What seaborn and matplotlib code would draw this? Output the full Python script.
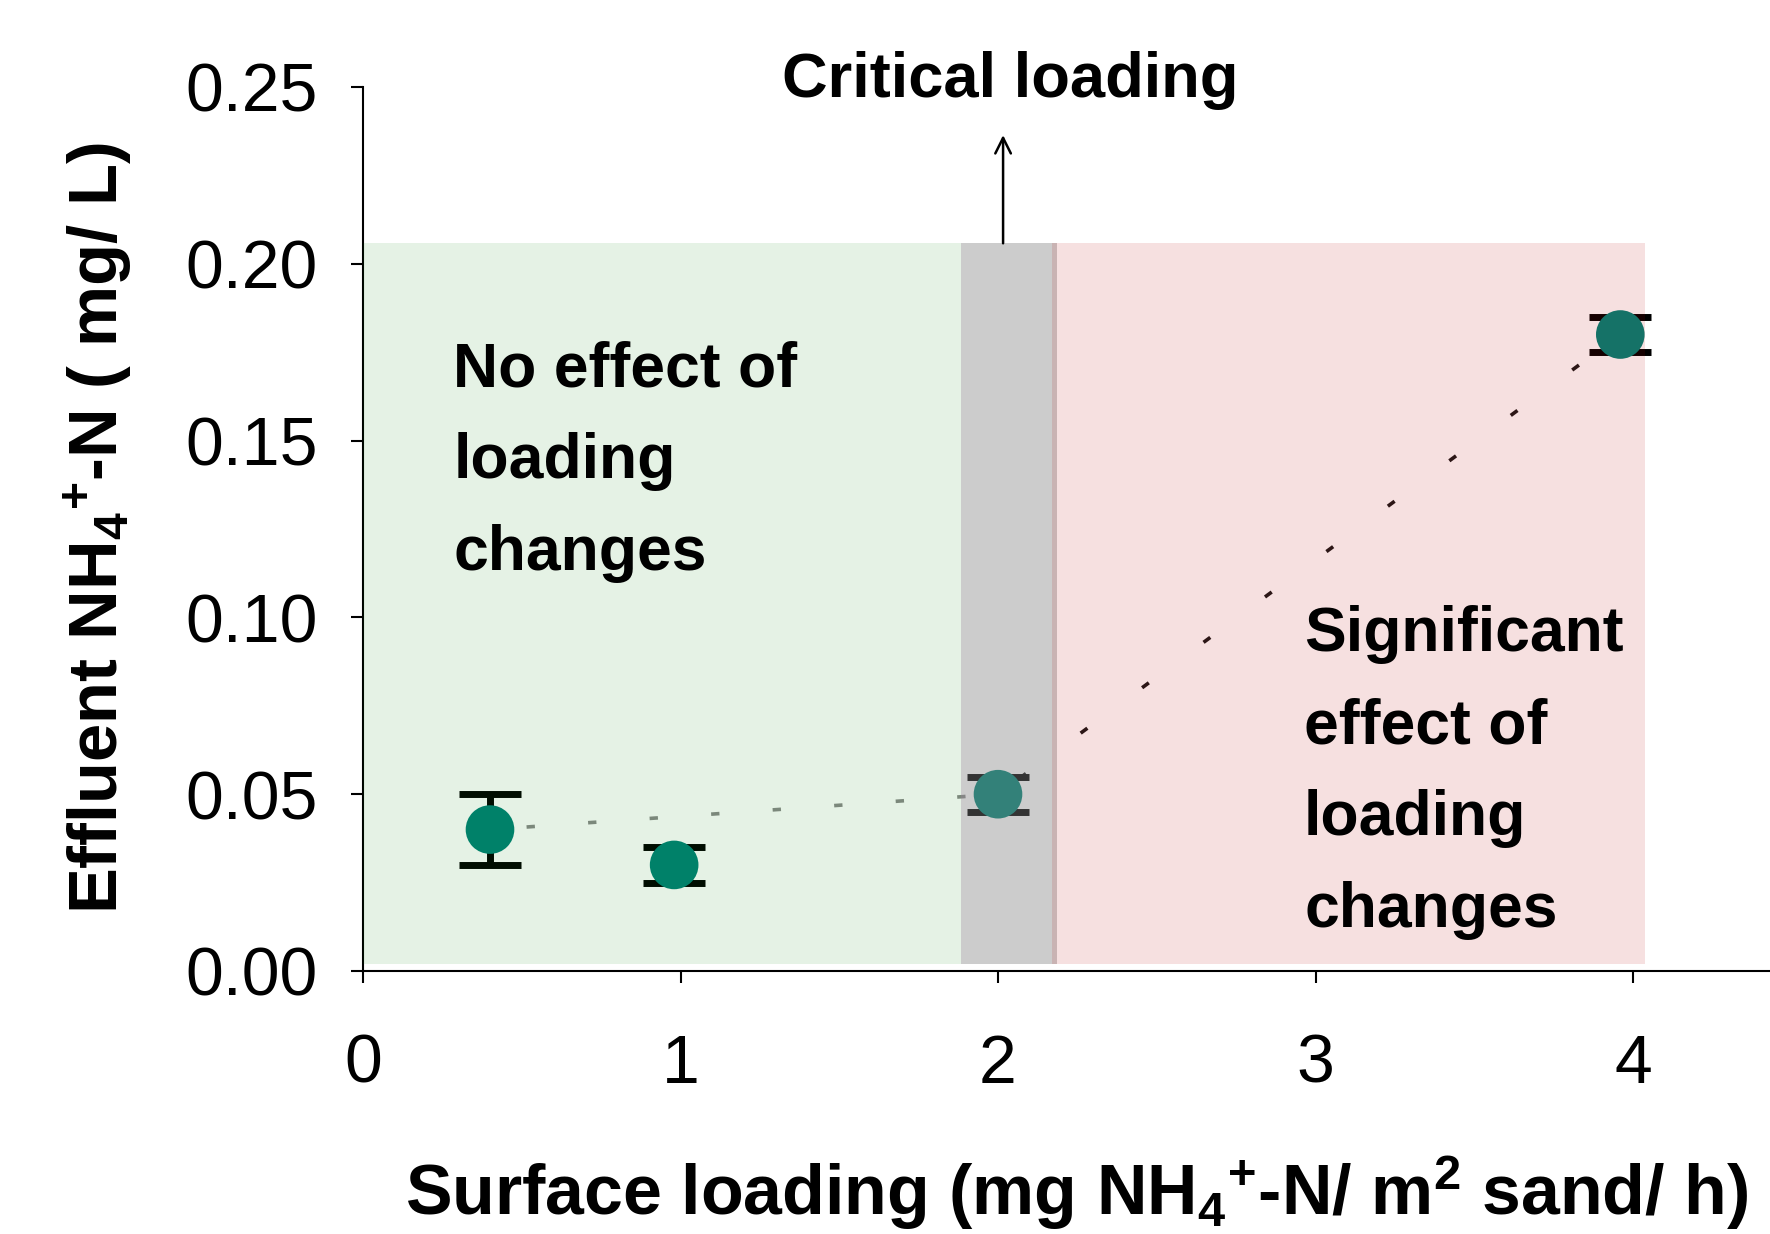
import matplotlib
matplotlib.use("Agg")
import matplotlib.pyplot as plt
import seaborn as sns
import numpy as np
import pandas as pd

# ---- data ----
loading = [0.40, 0.98, 2.00, 3.96]
effluent = [0.040, 0.030, 0.050, 0.180]
err = [0.010, 0.005, 0.005, 0.005]

trend_left_x = [0.40, 2.00]
trend_left_y = [0.040, 0.050]
trend_right_x = [2.00, 3.96]
trend_right_y = [0.050, 0.180]

x_ticks = [0, 1, 2, 3, 4]
y_ticks = [0.00, 0.05, 0.10, 0.15, 0.20, 0.25]
y_ticklabels = ["0.00", "0.05", "0.10", "0.15", "0.20", "0.25"]

zone_green = (-0.02, 1.883)
zone_gray = (1.883, 2.186)
zone_pink = (2.170, 4.037)
zone_y = (0.002, 0.2058)

critical_x = 2.016

sns.set_theme(style="ticks")
plt.rcParams["font.family"] = ["Liberation Sans", "DejaVu Sans"]
plt.rcParams["mathtext.fontset"] = "custom"
plt.rcParams["mathtext.rm"] = "Liberation Sans:bold"
plt.rcParams["mathtext.bf"] = "Liberation Sans:bold"
plt.rcParams["mathtext.it"] = "Liberation Sans:bold"
plt.rcParams["mathtext.sf"] = "Liberation Sans:bold"
plt.rcParams["mathtext.default"] = "bf"
plt.rcParams["lines.scale_dashes"] = False
plt.rcParams["text.color"] = "black"

fig = plt.figure(figsize=(17.7, 12.34), dpi=100)
W, H = 1770, 1234
ax = fig.add_axes([363 / W, (H - 971) / H, (W - 363) / W, (971 - 87) / H])
ax.set_facecolor("white")

df = pd.DataFrame({"loading": loading, "effluent": effluent, "err": err})

# trend lines (dotted)
ax.plot(trend_left_x, trend_left_y, color="#8a8a8a", lw=2.6,
        linestyle=(18, (6, 38.4)), zorder=1.5)
ax.plot(trend_right_x, trend_right_y, color="#1a1a1a", lw=2.6,
        linestyle=(36, (6, 49)), zorder=1.5)

# error bars
ax.errorbar(df["loading"], df["effluent"], yerr=df["err"], fmt="none",
            ecolor="black", elinewidth=5, capsize=22, capthick=5, zorder=2)

# markers
sns.scatterplot(data=df, x="loading", y="effluent", ax=ax, s=35 ** 2,
                color="#008276", edgecolor="none", linewidth=0, zorder=3,
                legend=False)

# zones (translucent overlays)
ax.fill_between(zone_green, zone_y[0], zone_y[1], color=(0, 0.5, 0),
                alpha=0.10, lw=0, zorder=4)
ax.fill_between(zone_gray, zone_y[0], zone_y[1], color=(0.5, 0.5, 0.5),
                alpha=0.40, lw=0, zorder=4)
ax.fill_between(zone_pink, zone_y[0], zone_y[1], color=(0.71, 0, 0),
                alpha=0.12, lw=0, zorder=4)

# arrow and annotation
ax.annotate("", xy=(critical_x, 0.2364), xytext=(critical_x, zone_y[1]),
            arrowprops=dict(arrowstyle="->", lw=1.8, color="black",
                            mutation_scale=28, shrinkA=0, shrinkB=0),
            zorder=5, annotation_clip=False)
ax.text(2.038, 0.2472, "Critical loading", ha="center", va="baseline",
        fontsize=45.5, fontweight="bold", color="black", clip_on=False)

# multi-line texts: va='baseline' anchors the last line's baseline
ax.text(0.284, 0.1134, "No effect of\nloading\nchanges", ha="left",
        va="baseline", fontsize=45, fontweight="bold", color="black",
        linespacing=1.715, zorder=6)
ax.text(2.964, 0.0125, "Significant\neffect of\nloading\nchanges", ha="left",
        va="baseline", fontsize=45, fontweight="bold", color="black",
        linespacing=1.715, zorder=6)

# axes
ax.set_xlim(0, (W - 363) / 317.5)
ax.set_ylim(0, 0.25)
ax.set_xticks(x_ticks)
ax.set_xticklabels([str(t) for t in x_ticks])
ax.set_yticks(y_ticks)
ax.set_yticklabels(y_ticklabels)
ax.tick_params(axis="both", direction="out", length=8.5, width=1.5,
               color="black", labelsize=49, labelcolor="black")
ax.tick_params(axis="x", pad=36)
ax.tick_params(axis="y", pad=24)
for s in ["top", "right"]:
    ax.spines[s].set_visible(False)
for s in ["left", "bottom"]:
    ax.spines[s].set_color("black")
    ax.spines[s].set_linewidth(1.5)
ax.set_xlabel("")
ax.set_ylabel("")
ax.grid(False)

# axis titles
fig.text(405 / W, 1 - 1215 / H,
         r"Surface loading (mg NH$_\mathbf{4}{}^\mathbf{+}$-N/ m$^\mathbf{2}$ sand/ h)",
         ha="left", va="baseline", fontsize=50.3, fontweight="bold",
         color="black")
fig.text(118 / W, 1 - 527.5 / H,
         r"Effluent NH$_\mathbf{4}{}^\mathbf{+}$-N ( mg/ L)",
         ha="center", va="baseline", rotation=90, rotation_mode="anchor",
         fontsize=49.5, fontweight="bold", color="black")

fig.savefig("out.png", dpi=100)
